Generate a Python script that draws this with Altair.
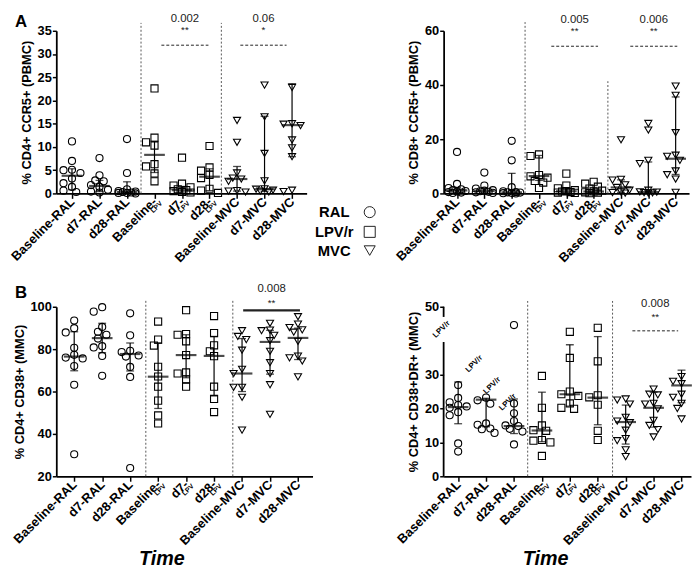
import altair as alt
import pandas as pd

# ---------------- shared categories ----------------
GROUPS = ["Baseline-RAL", "d7-RAL", "d28-RAL", "Baseline-LPV/r", "d7-LPV/r", "d28-LPV/r",
          "Baseline-MVC", "d7-MVC", "d28-MVC"]
DRUGS = ["RAL", "RAL", "RAL", "LPV/r", "LPV/r", "LPV/r", "MVC", "MVC", "MVC"]
NB = "\u00a0"
TICK_LABELS = ["Baseline-RAL", "d7-RAL", "d28-RAL", "Baseline-" + NB * 8, "d7-" + NB * 8,
               "d28-" + NB * 8, "Baseline-MVC", "d7-MVC", "d28-MVC"]
LEGEND_LABELS = ["RAL", "LPV/r", "MVC"]
LEGEND_SHAPES = ["circle", "square", "triangle-down"]

# ---------------- panel A left: % CD4+ CCR5+ (PBMC) ----------------
a1_values = [
    [11.2, 7.0, 5.1, 5.0, 4.4, 3.2, 2.2, 1.4, 0.6, 0.3],
    [7.6, 3.9, 2.8, 2.6, 1.8, 1.4, 0.8, 0.4, 0.2],
    [11.7, 4.4, 0.9, 0.5, 0.4, 0.3, 0.2, 0.1, 0.1, 0.0],
    [22.6, 12.0, 11.0, 10.3, 6.3, 5.8, 4.3, 2.6],
    [7.7, 2.1, 1.7, 1.3, 0.9, 0.7, 0.5, 0.3, 0.2],
    [10.2, 5.6, 4.9, 4.0, 3.3, 1.0, 0.6, 0.1],
    [15.7, 11.0, 4.4, 3.3, 3.1, 2.6, 0.6, 0.5, 0.3],
    [23.3, 16.5, 8.6, 2.7, 1.0, 0.9, 0.7, 0.5, 0.3],
    [22.8, 15.0, 14.9, 14.6, 11.5, 9.8, 7.9, 0.7, 0.4],
]
a1_median = [3.8, 1.6, 0.3, 8.3, 0.7, 3.6, 3.1, 0.9, 14.7]
a1_q1 = [0.8, 0.4, 0.05, 4.5, 0.3, 0.6, 0.5, 0.4, 7.9]
a1_q3 = [5.3, 2.8, 2.5, 11.2, 1.5, 5.3, 5.8, 16.6, 23.6]
a1_ann_x1 = [3.25, 6.12]
a1_ann_x2 = [4.96, 7.80]
a1_ann_y = [31.9, 31.9]
a1_ann_p = ["0.002", "0.06"]
a1_ann_star = ["**", "*"]

# ---------------- panel A right: % CD8+ CCR5+ (PBMC) ----------------
a2_values = [
    [15.3, 3.5, 2.0, 1.5, 1.2, 0.9, 0.7, 0.5, 0.3, 0.2],
    [7.7, 2.9, 1.8, 1.2, 1.0, 0.8, 0.6, 0.4, 0.2],
    [19.4, 12.2, 2.3, 0.8, 0.5, 0.4, 0.3, 0.2, 0.1, 0.0],
    [14.4, 13.8, 6.8, 6.3, 5.8, 4.6, 4.0, 2.0],
    [7.3, 2.9, 1.9, 1.2, 0.9, 0.7, 0.5, 0.3, 0.2],
    [4.3, 3.6, 2.5, 1.8, 1.0, 0.7, 0.4, 0.3, 0.1],
    [19.8, 5.2, 4.9, 3.2, 2.2, 1.2, 0.6, 0.3, 0.1],
    [25.8, 23.4, 12.2, 11.0, 1.2, 0.6, 0.5, 0.3, 0.2, 0.1],
    [39.6, 36.2, 22.4, 14.1, 13.7, 12.2, 8.3, 6.9, 5.3, 0.4],
]
a2_median = [1.1, 0.9, 0.4, 6.4, 0.8, 0.7, 2.2, 0.5, 12.8]
a2_q1 = [0.4, 0.4, 0.1, 4.8, 0.3, 0.3, 0.4, 0.2, 7.0]
a2_q3 = [2.2, 1.8, 7.4, 14.0, 2.0, 2.2, 5.0, 11.6, 35.6]
a2_ann_x1 = [3.45, 6.34]
a2_ann_x2 = [5.16, 8.06]
a2_ann_y = [54.3, 54.3]
a2_ann_p = ["0.005", "0.006"]
a2_ann_star = ["**", "**"]

# ---------------- panel B left: % CD4+ CD38+ (MMC) ----------------
b1_values = [
    [93.5, 89.9, 87.9, 80.6, 77.3, 76.0, 75.6, 72.0, 63.2, 30.4],
    [99.8, 97.7, 90.5, 88.2, 86.8, 85.0, 81.4, 80.8, 76.8, 67.4],
    [96.9, 86.5, 79.2, 78.6, 77.0, 76.5, 71.6, 66.9, 23.9],
    [93.0, 84.5, 81.7, 71.7, 67.1, 62.3, 55.7, 48.7, 44.9],
    [98.4, 87.1, 86.8, 83.7, 77.2, 69.0, 68.5, 65.8, 62.3],
    [95.6, 87.6, 81.8, 79.0, 76.7, 62.3, 56.5, 50.3],
    [88.7, 86.0, 84.5, 79.5, 70.5, 68.5, 62.0, 62.0, 57.3, 41.8],
    [92.2, 89.0, 88.7, 86.5, 84.0, 79.0, 73.6, 68.5, 63.2, 49.2],
    [95.3, 91.8, 90.2, 89.1, 88.0, 83.7, 76.7, 75.9, 74.4, 66.9],
]
b1_median = [76.5, 85.2, 77.7, 67.0, 77.2, 76.8, 68.5, 83.4, 85.3]
b1_q1 = [69.8, 78.3, 69.7, 52.0, 66.5, 57.9, 60.0, 68.2, 75.1]
b1_q3 = [88.2, 92.2, 82.9, 82.8, 86.8, 86.0, 85.0, 88.9, 89.9]
b1_ann_x1 = [6.04]
b1_ann_x2 = [8.07]
b1_ann_y = [98.3]
b1_ann_p = ["0.008"]
b1_ann_star = ["**"]

# ---------------- panel B right: % CD4+ CD38+DR+ (MMC) ----------------
b2_values = [
    [26.9, 23.1, 21.8, 21.0, 20.6, 20.2, 18.9, 18.0, 9.7, 7.3],
    [23.2, 22.4, 21.4, 15.6, 15.2, 14.1, 13.9, 12.8],
    [44.6, 21.5, 18.6, 16.3, 15.0, 14.8, 14.0, 13.2, 9.4],
    [29.6, 20.2, 15.0, 13.6, 13.4, 10.7, 10.5, 10.0, 6.0],
    [42.6, 34.9, 25.0, 24.2, 23.7, 21.5, 20.2, 19.9],
    [43.8, 33.9, 23.9, 23.3, 21.1, 13.4, 10.7],
    [22.8, 22.5, 21.3, 17.4, 16.3, 15.8, 13.6, 11.1, 10.5, 7.8, 5.8],
    [25.7, 24.2, 24.0, 21.5, 21.3, 19.9, 16.5, 15.0, 13.8, 11.6],
    [29.4, 28.0, 27.3, 24.2, 23.3, 21.5, 20.0, 16.9],
]
b2_median = [20.4, 22.6, 14.8, 13.5, 24.2, 23.2, 16.0, 20.2, 26.8]
b2_q1 = [15.5, 14.6, 12.6, 10.2, 20.7, 15.2, 9.5, 14.5, 21.7]
b2_q3 = [27.8, 23.0, 22.8, 24.8, 38.8, 41.2, 21.0, 24.8, 31.3]
b2_ann_x1 = [6.24]
b2_ann_x2 = [7.88]
b2_ann_y = [42.9]
b2_ann_p = ["0.008"]
b2_ann_star = ["**"]
# stray "LPV/r" labels visible in the original panel
b2_stray_x = [-0.59, 0.58, 1.22, 1.78]
b2_stray_y = [43.3, 33.1, 26.7, 21.8]

FONT = "Liberation Sans"
LABEL_EXPR = "[" + ",".join("'" + t + "'" for t in TICK_LABELS) + "][datum.value]"
SHAPE_SCALE = alt.Scale(domain=LEGEND_LABELS, range=LEGEND_SHAPES)


def swarm(vals, px_y, d=7.2, step=4.3, maxk=2):
    """Deterministic side-by-side layout of overlapping points (pixel offsets)."""
    cands = [0.0]
    for k in range(1, maxk + 1):
        cands += [-k * step, k * step]
    placed, offs = [], []
    for v in vals:
        y = v * px_y
        best, bestd = 0.0, -1.0
        for c in cands:
            md = min([((c - px) ** 2 + (y - py) ** 2) ** 0.5 for px, py in placed], default=1e9)
            if md >= d * 0.9:
                best = c
                break
            if md > bestd:
                bestd, best = md, c
        placed.append((best, y))
        offs.append(best)
    return offs


def panel(vals, med, q1, q3, ydom, yticks, ytitle, w, h, xdom, seps,
          ann, star_dy, p_dy, time_title=False, ydomain=True, extras=()):
    px_x = w / (xdom[1] - xdom[0])
    px_y = h / (ydom[1] - ydom[0])
    rows = []
    for g, vs in enumerate(vals):
        for v, o in zip(vs, swarm(vs, px_y)):
            rows.append({"x": g + o / px_x, "y": v, "drug": DRUGS[g]})
    pts_df = pd.DataFrame(rows)
    summ = pd.DataFrame({"x": list(range(9)), "med": med, "q1": q1, "q3": q3})
    sep_df = pd.DataFrame({"x": [s[0] for s in seps], "y0": [ydom[0]] * len(seps),
                           "y1": [s[1] for s in seps]})
    x1, x2, ay, ap, ast, style = ann
    ann_df = pd.DataFrame({"x1": x1, "x2": x2, "xm": [(a + b) / 2 for a, b in zip(x1, x2)],
                           "y": ay, "p": ap, "star": ast, "style": style})

    xaxis_kw = dict(values=list(range(9)), labelExpr=LABEL_EXPR, labelAngle=-45,
                    labelAlign="right", labelBaseline="middle", labelPadding=1,
                    labelOverlap=False, labelFlush=False,
                    tickSize=5, tickWidth=1.5, domainWidth=1.8, grid=False,
                    labelFontSize=13, labelFontWeight="bold")
    if time_title:
        xaxis_kw.update(title="Time", titleFontSize=20, titleFontStyle="italic",
                        titleFontWeight="bold", titleX=w * 0.41, titleY=90,
                        titleBaseline="alphabetic", titleAlign="center")
    else:
        xaxis_kw.update(title=None)
    xaxis = alt.Axis(**xaxis_kw)
    yaxis = alt.Axis(values=yticks, title=ytitle, grid=False, domain=ydomain,
                     domainWidth=1.8, tickSize=4, tickWidth=1.5, labelPadding=1,
                     labelOverlap=False, labelFlush=False,
                     labelFontSize=13, labelFontWeight="bold", titleFontSize=13,
                     titleFontWeight="bold", titlePadding=4)
    xs = alt.Scale(domain=xdom, nice=False, zero=False)
    ys = alt.Scale(domain=ydom, nice=False, zero=False)

    def X(f):
        return alt.X(f, type="quantitative", scale=xs, axis=xaxis)

    def Y(f):
        return alt.Y(f, type="quantitative", scale=ys, axis=yaxis)

    layers = []
    layers.append(alt.Chart(pts_df).mark_point(filled=False, size=52, strokeWidth=1.1,
                                                color="black", opacity=1).encode(
        x=X("x"), y=Y("y"),
        shape=alt.Shape("drug:N", scale=SHAPE_SCALE, legend=None)))
    layers.append(alt.Chart(sep_df).mark_rule(color="#555", strokeDash=[2, 2], strokeWidth=1).encode(
        x=X("x"), y=Y("y0"), y2="y1"))
    layers.append(alt.Chart(summ).mark_rule(color="black", strokeWidth=1.2).encode(
        x=X("x"), y=Y("q1"), y2="q3"))
    layers.append(alt.Chart(summ).transform_fold(["q1", "q3"], as_=["k", "cap"]).mark_tick(
        orient="horizontal", size=8, thickness=1.3, color="black").encode(x=X("x"), y=Y("cap")))
    layers.append(alt.Chart(summ).mark_tick(orient="horizontal", size=21, thickness=2.2,
                                            color="black").encode(x=X("x"), y=Y("med")))
    layers.append(alt.Chart(ann_df).mark_rule(color="#222").encode(
        x=X("x1"), x2="x2", y=Y("y"),
        strokeDash=alt.StrokeDash("style:N", scale=alt.Scale(domain=["dash", "solid"],
                                                              range=[[3, 2], [1, 0]]), legend=None),
        strokeWidth=alt.StrokeWidth("style:N", scale=alt.Scale(domain=["dash", "solid"],
                                                                range=[1, 2.2]), legend=None)))
    layers.append(alt.Chart(ann_df).mark_text(dy=-star_dy, fontSize=10, baseline="alphabetic",
                                              color="#222").encode(x=X("xm"), y=Y("y"), text="star:N"))
    layers.append(alt.Chart(ann_df).mark_text(dy=-p_dy, fontSize=11.5, baseline="alphabetic",
                                              color="#222").encode(x=X("xm"), y=Y("y"), text="p:N"))
    lpv_df = pd.DataFrame({"x": [3, 4, 5], "t": ["LPV", "LPV", "LPV"]})
    layers.append(alt.Chart(lpv_df).mark_text(angle=315, fontSize=7, fontWeight="bold", dx=3,
                                              align="center", baseline="middle").encode(
        x=X("x"), y=alt.value(h + 16), text="t:N"))
    for e in extras:
        layers.append(e(X, Y))
    return alt.layer(*layers).properties(width=w, height=h)


def letter(t, base):
    def mk(X, Y):
        return alt.Chart(pd.DataFrame({"t": [t]})).mark_text(
            fontSize=17, fontWeight="bold", align="left", baseline="alphabetic").encode(
            x=alt.value(-42), y=alt.value(base), text="t:N")
    return mk


def legend_layers():
    out = []
    ys_text = [189, 209, 229]
    ys_sym = [184, 204, 223]
    for i in range(3):
        def mk_t(X, Y, i=i):
            return alt.Chart(pd.DataFrame({"t": [LEGEND_LABELS[i]]})).mark_text(
                fontSize=15, fontWeight="bold", align="center", baseline="alphabetic").encode(
                x=alt.value(282), y=alt.value(ys_text[i]), text="t:N")

        def mk_s(X, Y, i=i):
            return alt.Chart(pd.DataFrame({"drug": [LEGEND_LABELS[i]]})).mark_point(
                filled=False, size=125, strokeWidth=1, color="#222", opacity=1).encode(
                x=alt.value(318), y=alt.value(ys_sym[i]),
                shape=alt.Shape("drug:N", scale=SHAPE_SCALE, legend=None))
        out += [mk_t, mk_s]
    return out


def b2_axis_line(X, Y):
    df = pd.DataFrame({"a": [0.0, 47.0], "b": [39.6, 50.0]})
    return alt.Chart(df).mark_rule(color="black", strokeWidth=1.8).encode(
        x=alt.value(0), y=Y("a"), y2="b")


def b2_stray(X, Y):
    df = pd.DataFrame({"x": b2_stray_x, "y": b2_stray_y, "t": ["LPV/r"] * 4})
    return alt.Chart(df).mark_text(angle=315, fontSize=8, fontWeight="bold").encode(
        x=X("x"), y=Y("y"), text="t:N")


A1 = panel(a1_values, a1_median, a1_q1, a1_q3, [0, 35], [0, 5, 10, 15, 20, 25, 30, 35],
           "% CD4+ CCR5+ (PBMC)", 254, 165, [-0.57, 8.53], [(2.51, 36.7), (5.43, 36.7)],
           (a1_ann_x1, a1_ann_x2, a1_ann_y, a1_ann_p, a1_ann_star, ["dash", "dash"]), 12, 24,
           extras=[letter("A", -4)] + legend_layers())
A2 = panel(a2_values, a2_median, a2_q1, a2_q3, [0, 60], [0, 20, 40, 60],
           "% CD8+ CCR5+ (PBMC)", 249, 165, [-0.49, 8.49], [(2.49, 63.2), (5.52, 41.4)],
           (a2_ann_x1, a2_ann_x2, a2_ann_y, a2_ann_p, a2_ann_star, ["dash", "dash"]), 12, 24)
B1 = panel(b1_values, b1_median, b1_q1, b1_q3, [20, 100], [20, 40, 60, 80, 100],
           "% CD4+ CD38+ (MMC)", 260, 172, [-0.64, 8.52], [(2.56, 102.8), (5.67, 102.8)],
           (b1_ann_x1, b1_ann_x2, b1_ann_y, b1_ann_p, b1_ann_star, ["solid"]), 4, 19,
           time_title=True, extras=[letter("B", -9)])
B2 = panel(b2_values, b2_median, b2_q1, b2_q3, [0, 50], [0, 10, 20, 30, 50],
           "% CD4+ CD38+DR+ (MMC)", 251, 172, [-0.52, 8.34], [(2.49, 51.7), (5.53, 51.7)],
           (b2_ann_x1, b2_ann_x2, b2_ann_y, b2_ann_p, b2_ann_star, ["dash"]), 11, 24,
           time_title=True, ydomain=False, extras=[b2_axis_line, b2_stray])

chart = alt.concat(A1, A2, B1, B2, columns=2, bounds="flush",
                   spacing=alt.RowColnumber(row=115, column=133)).properties(padding=0)
chart = chart.configure(font=FONT).configure_view(stroke=None).configure_axis(
    labelFont=FONT, titleFont=FONT, labelColor="black", titleColor="black",
    domainColor="black", tickColor="black")

chart.save("out.html", embed_options={"renderer": "svg", "actions": False})
